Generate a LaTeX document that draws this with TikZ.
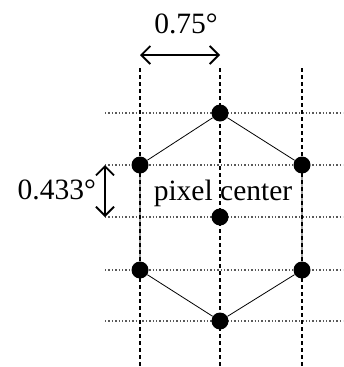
\documentclass[tikz,border=0pt]{standalone}
\usepackage{fontspec}
\setmainfont{Liberation Serif}
\usetikzlibrary{arrows.meta}
\begin{document}
\begin{tikzpicture}[x=1pt,y=-1pt,
  vline/.style={line width=2pt,dash pattern=on 4pt off 3pt},
  hline/.style={line width=1.8pt,dash pattern=on 1.4pt off 2pt,gray!70!black},
  dot/.style={circle,fill=black,inner sep=0pt,minimum size=17pt},
  edge/.style={line width=0.8pt},
  dim/.style={line width=1.6pt,{Straight Barb[length=9pt,width=18pt,line width=1.8pt]}-{Straight Barb[length=9pt,width=18pt,line width=1.8pt]}},
  lab/.style={font=\fontsize{29.5}{30}\selectfont,inner sep=0pt}]
\useasboundingbox (0,0) rectangle (343,367);
% grid coordinates
\coordinate (vt1) at (140,68); \coordinate (vb1) at (140,367);
\coordinate (vt2) at (220,68); \coordinate (vb2) at (220,367);
\coordinate (vt3) at (302,68); \coordinate (vb3) at (302,367);
\foreach \i/\y in {1/113,2/165,3/217,4/270,5/321}{
  \coordinate (hl\i) at (105,\y); \coordinate (hr\i) at (343,\y);
  \draw[hline] (hl\i) -- (hr\i);
}
\foreach \i in {1,2,3}{\draw[vline] (vt\i) -- (vb\i);}
% dots
\node[dot] (top) at (220,113) {};
\node[dot] (ul) at (140,165) {};
\node[dot] (ur) at (302,165) {};
\node[dot] (c) at (220,217) {};
\node[dot] (ll) at (140,270) {};
\node[dot] (lr) at (302,270) {};
\node[dot] (bot) at (220,321) {};
\draw[edge] (top) -- (ul) -- (ll) -- (bot) -- (lr) -- (ur) -- (top);
% dimensions
\coordinate (a1) at (140,55); \coordinate (a2) at (220,55);
\draw[dim] (a1) -- (a2);
\node[lab] (l075) at (186,24) {0.75°};
\coordinate (b1) at (105,165); \coordinate (b2) at (105,217);
\draw[dim] (b1) -- (b2);
\node[lab,anchor=east] (l433) at (96,190) {0.433°};
\node[lab] (pc) at (223,193) {pixel center};
\end{tikzpicture}
\end{document}
